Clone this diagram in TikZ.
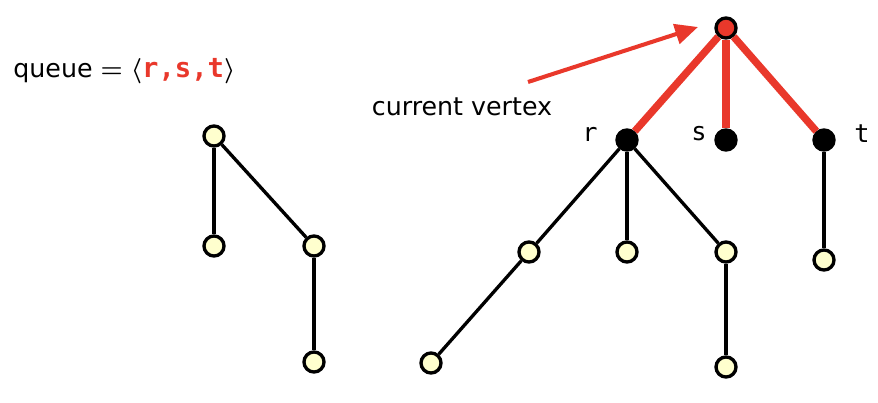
\documentclass[tikz,border=0pt]{standalone}
\usepackage{fontspec}
\setmainfont{DejaVu Sans}
\setmonofont{DejaVu Sans Mono}
\usetikzlibrary{arrows.meta,positioning}
\definecolor{hotred}{RGB}{233,56,43}
\definecolor{paleyellow}{RGB}{255,255,206}

\begin{document}
\begin{tikzpicture}[x=0.02cm, y=-0.02cm, font=\fontsize{14.4}{17}\selectfont,
    vert/.style={circle, draw, line width=1.9pt, fill=paleyellow, inner sep=0pt, minimum size=11.4pt},
    seen/.style={vert, fill=black},
    curr/.style={vert, fill=hotred},
    edge/.style={line width=1.9pt},
    hot/.style={line width=4.2pt, hotred},
    lab/.style={font=\fontsize{14.4}{17}\selectfont\ttfamily}]

    \useasboundingbox (0,0) rectangle (878,402);

    % left tree
    \node[vert] (a) at (214,136) {};
    \node[vert] (b) at (214,246) {};
    \node[vert] (c) at (314,246) {};
    \node[vert] (d) at (314,362) {};

    % right tree
    \node[curr] (top) at (726,28) {};
    \node[seen] (r) at (627,140) {};
    \node[seen] (s) at (726,140) {};
    \node[seen] (t) at (824,140) {};
    \node[vert] (r1) at (529,252) {};
    \node[vert] (r2) at (627,252) {};
    \node[vert] (r3) at (726,252) {};
    \node[vert] (r4) at (431,363) {};
    \node[vert] (r5) at (726,367) {};
    \node[vert] (t1) at (824,260) {};

    \foreach \s/ \d in {a/b, a/c, c/d, r/r1, r/r2, r/r3, r1/r4, r3/r5, t/t1}{
        \draw[edge] (\s) -- (\d);
    }
    \foreach \d in {r, s, t}{
        \draw[hot] (top) -- (\d);
    }

    \node[lab] at (590,134) {r};
    \node[lab] at (699,134) {s};
    \node[lab] at (862,134) {t};

    \node[anchor=base west, inner sep=0pt] (queue) at (13,78)
        {queue {\boldmath$=$} {\boldmath$\langle$}\textcolor{hotred}{\fontsize{15.5}{17}\selectfont\ttfamily\bfseries r,s,t}{\boldmath$\rangle$}};
    \node (cv) at (462,107) {current vertex};

    \coordinate (tail) at (528,82);
    \coordinate (tip) at (698,27);
    \draw[hotred, line width=2.3pt, -{Triangle[length=13pt, width=11.5pt]}] (tail) -- (tip);
\end{tikzpicture}
\end{document}
